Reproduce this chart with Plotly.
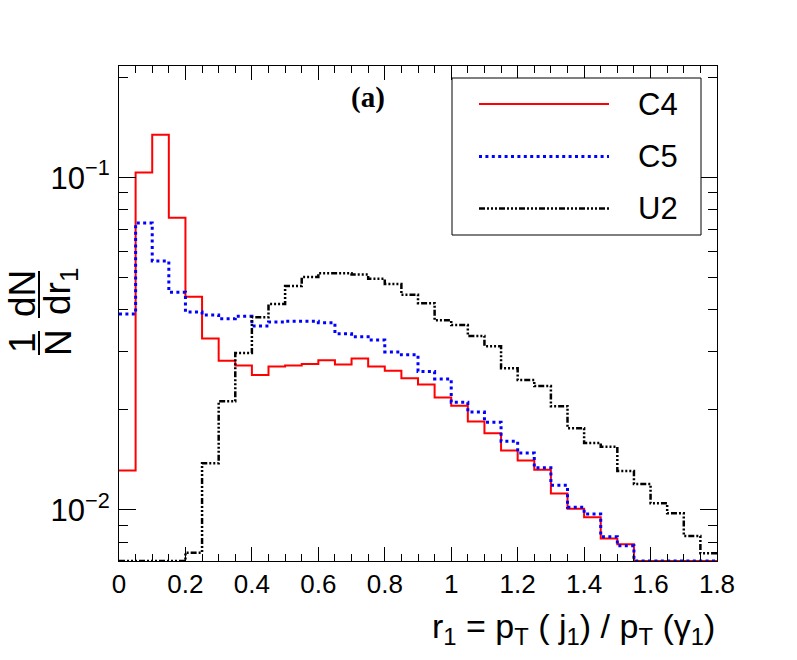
import numpy as np
import plotly.graph_objects as go

# ---- data ----
bin_edges = [round(0.05 * i, 2) for i in range(37)]  # 0 .. 1.8, width 0.05

c4 = [0.01314, 0.1037, 0.1347, 0.0758, 0.0438, 0.0328, 0.0281, 0.0272, 0.02546,
      0.02704, 0.0272, 0.02748, 0.0282, 0.0274, 0.02857, 0.0270, 0.02624, 0.0249,
      0.02384, 0.0218, 0.0206, 0.01845, 0.01702, 0.0151, 0.01408, 0.01322, 0.0112,
      0.01009, 0.0095, 0.0082, 0.00788, 0, 0, 0, 0, 0]

c5 = [0.03885, 0.0730, 0.0561, 0.0452, 0.0394, 0.0386, 0.0376, 0.0383, 0.0358,
      0.03675, 0.0370, 0.0370, 0.0366, 0.0339, 0.0332, 0.03245, 0.0299, 0.0293,
      0.0261, 0.0248, 0.0211, 0.0197, 0.01837, 0.0161, 0.01485, 0.0134, 0.01187,
      0.01019, 0.00972, 0.00831, 0.0078, 0, 0, 0, 0, 0]

u2 = [0, 0, 0, 0, 0.00744, 0.01382, 0.02125, 0.02965, 0.0380, 0.04164, 0.0472,
      0.0502, 0.0516, 0.0516, 0.0511, 0.0496, 0.0479, 0.0444, 0.0419, 0.0372,
      0.0360, 0.0334, 0.0311, 0.0267, 0.0246, 0.0236, 0.02053, 0.01762, 0.0159,
      0.01549, 0.0131, 0.01197, 0.01047, 0.00977, 0.00835, 0.00741]

series_names = ["C4", "C5", "U2"]
series_colors = ["#ff0000", "#0000ff", "#000000"]

x_tick_vals = [0, 0.2, 0.4, 0.6, 0.8, 1.0, 1.2, 1.4, 1.6, 1.8]
y_tick_vals = [0.01, 0.1]
y_tick_text = ["10<sup>\u22122</sup>", "10<sup>\u22121</sup>"]

# ---- layout geometry ----
W, H = 797, 660
ML, MR, MT, MB = 119, 80, 66, 99
YMIN, YMAX = 10 ** -2.1536, 10 ** -0.664

PW = W - ML - MR
PH = H - MT - MB


def px(x):
    return (x - ML) / PW


def py(y):
    return (H - MB - y) / PH


def hist_xy(vals):
    v = np.asarray(vals, dtype=float)
    v = np.where(v > 0, v, YMIN)  # empty bins are drawn on the frame, as ROOT does
    return bin_edges, list(v) + [v[-1]]


styles = [
    dict(width=2, dash="solid"),
    dict(width=3, dash="3px,3.4px"),
    dict(width=2.5, dash="6px,2px,2px,2px,2px,2px,2px,2px"),
]

fig = go.Figure()
for name, vals, col, st in zip(series_names, [c4, c5, u2], series_colors, styles):
    xs, ys = hist_xy(vals)
    fig.add_trace(go.Scatter(x=xs, y=ys, mode="lines", name=name,
                             line=dict(color=col, shape="hv", **st),
                             showlegend=False, hoverinfo="skip"))

minor_y = [k * 10 ** e for e in (-3, -2, -1) for k in range(2, 10)]
minor_y = [v for v in minor_y if YMIN <= v <= YMAX]

fig.update_layout(
    width=W, height=H,
    margin=dict(l=ML, r=MR, t=MT, b=MB),
    paper_bgcolor="white", plot_bgcolor="white",
    font=dict(family="Liberation Sans, Arial, sans-serif", color="black"),
    xaxis=dict(range=[0, 1.8], tickmode="array", tickvals=x_tick_vals,
               ticks="inside", ticklen=14, tickwidth=1, tickcolor="black",
               showline=True, linecolor="black", linewidth=1, mirror="allticks",
               showgrid=False, zeroline=False,
               tickfont=dict(size=26),
               minor=dict(dtick=0.05, ticks="inside", ticklen=7, tickcolor="black",
                          showgrid=False)),
    yaxis=dict(type="log", range=[np.log10(YMIN), np.log10(YMAX)],
               tickmode="array", tickvals=y_tick_vals, ticktext=y_tick_text,
               ticks="inside", ticklen=17, tickwidth=1, tickcolor="black",
               showline=True, linecolor="black", linewidth=1, mirror="allticks",
               showgrid=False, zeroline=False,
               tickfont=dict(size=31), ticklabelstandoff=2,
               minor=dict(tickmode="array", tickvals=minor_y, ticks="inside",
                          ticklen=9, tickcolor="black", showgrid=False)),
)

ann = []
# x axis title
ann.append(dict(text="r<sub>1</sub> = p<sub>T</sub> ( j<sub>1</sub>) / p<sub>T</sub> (\u03b3<sub>1</sub>)",
                xref="paper", yref="paper", x=px(717), y=py(628),
                xanchor="right", yanchor="middle", showarrow=False,
                font=dict(size=34)))
# y axis title as a fraction (rotated)
yt_font = dict(size=37)
for txt, cx, cy in [("dN", 22, 294), ("1", 22, 343), ("dr<sub>1</sub>", 60, 292), ("N", 58, 343)]:
    ann.append(dict(text=txt, xref="paper", yref="paper", x=px(cx), y=py(cy),
                    xanchor="center", yanchor="middle", textangle=-90,
                    showarrow=False, font=yt_font))
# panel label
ann.append(dict(text="<b>(a)</b>", xref="paper", yref="paper", x=px(368), y=py(98),
                xanchor="center", yanchor="middle", showarrow=False,
                font=dict(size=29, family="Liberation Serif, Times New Roman, serif")))

shapes = []
# fraction bars
shapes.append(dict(type="line", xref="paper", yref="paper", x0=px(39), x1=px(39),
                   y0=py(271), y1=py(318), line=dict(color="black", width=2)))
shapes.append(dict(type="line", xref="paper", yref="paper", x0=px(39), x1=px(39),
                   y0=py(331), y1=py(355), line=dict(color="black", width=2)))
# legend box
shapes.append(dict(type="rect", xref="paper", yref="paper", x0=px(452), x1=px(701),
                   y0=py(235), y1=py(78), line=dict(color="black", width=1),
                   fillcolor="white"))
for name, col, st, ly in zip(series_names, series_colors, styles, [104, 156.5, 208.5]):
    shapes.append(dict(type="line", xref="paper", yref="paper", x0=px(479), x1=px(609),
                       y0=py(ly), y1=py(ly), line=dict(color=col, **st)))
    ann.append(dict(text=name, xref="paper", yref="paper", x=px(636), y=py(ly),
                    xanchor="left", yanchor="middle", showarrow=False,
                    font=dict(size=31)))

fig.update_layout(annotations=ann, shapes=shapes, hovermode=False)
fig.write_html("out.html", config={"displayModeBar": False, "staticPlot": True},
               post_script="document.body.style.margin='0px';")
